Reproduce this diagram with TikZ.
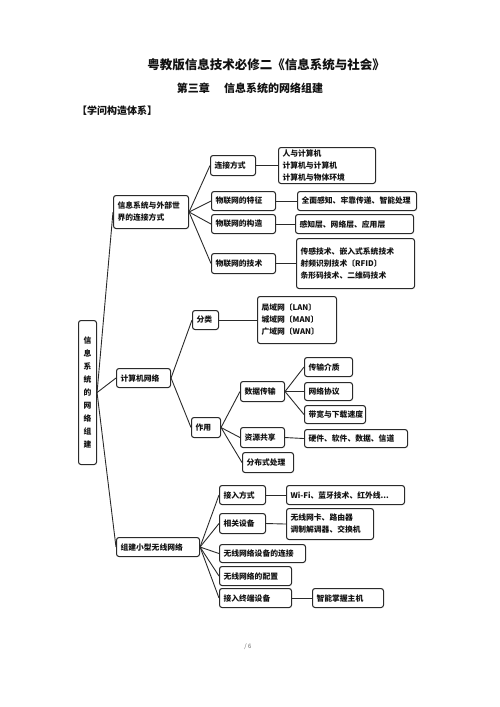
\documentclass[tikz,border=0pt]{standalone}
\usepackage{fontspec}
\setmainfont{Noto Sans CJK SC}
\usepackage{tikz}
\usetikzlibrary{positioning}
\definecolor{ink}{HTML}{111111}
\definecolor{edge}{HTML}{2A2A2A}
\definecolor{pgno}{HTML}{666666}
\tikzset{
  box/.style={draw=edge,line width=1.05pt,rounded corners=2.5pt,anchor=north west,
    inner xsep=4pt,inner ysep=0pt,align=left,text=ink,
    font=\bfseries\fontsize{7.8}{12}\selectfont},
  vbox/.style={box,align=center,font=\bfseries\fontsize{7.8}{13}\selectfont},
  wire/.style={draw=edge,line width=0.9pt},
  ttl/.style={text=ink,font=\bfseries\fontsize{12.5}{14}\selectfont},
  sttl/.style={text=ink,font=\bfseries\fontsize{11}{13}\selectfont},
  head/.style={text=ink,font=\bfseries\fontsize{10}{12}\selectfont},
}

\begin{document}
\begin{tikzpicture}[x=1pt,y=-1pt]
  \useasboundingbox (0,0) rectangle (500,707);
  % ---------- titles ----------
  \node[ttl] (title) at (266,65) {粤教版信息技术必修二《信息系统与社会》};
  \node[sttl] (chap) at (250,88) {第三章\hspace{1.3em}信息系统的网络组建};
  \node[head] (sec) at (117,111) {【学问构造体系】};
  % ---------- root and first level ----------
  \node[vbox,text width=10pt,minimum height=144pt] (root) at (78,320)
    {信\\息\\系\\统\\的\\网\\络\\组\\建};
  \node[box,text width=67pt,minimum height=33pt] (outer) at (113,195)
    {信息系统与外部世\\界的连接方式};
  \node[box,text width=46pt,minimum height=19pt] (net) at (116,368) {计算机网络};
  \node[box,text width=75pt,minimum height=19pt] (wlan) at (116,537) {组建小型无线网络};
  % ---------- outer world ----------
  \node[box,text width=37pt,minimum height=20pt] (conn) at (210,155) {连接方式};
  \node[box,text width=89pt,minimum height=36pt] (connL) at (278,147)
    {人与计算机\\计算机与计算机\\计算机与物体环境};
  \node[box,text width=56pt,minimum height=19pt] (iotF) at (211,191) {物联网的特征};
  \node[box,text width=111pt,minimum height=19pt] (iotFL) at (297,191) {全面感知、牢靠传递、智能处理};
  \node[box,text width=56pt,minimum height=19pt] (iotS) at (211,214) {物联网的构造};
  \node[box,text width=110pt,minimum height=19pt] (iotSL) at (295,214) {感知层、网络层、应用层};
  \node[box,text width=56pt,minimum height=20pt] (iotT) at (211,253) {物联网的技术};
  \node[box,text width=110pt,minimum height=50pt] (iotTL) at (296,238)
    {传感技术、嵌入式系统技术\\射频识别技术〔RFID〕\\条形码技术、二维码技术};
  % ---------- computer network ----------
  \node[box,text width=18pt,minimum height=19pt] (cls) at (192,310) {分类};
  \node[box,text width=71pt,minimum height=47pt] (clsL) at (257,296)
    {局域网〔LAN〕\\城域网〔MAN〕\\广域网〔WAN〕};
  \node[box,text width=21pt,minimum height=20pt] (use) at (191,417) {作用};
  \node[box,text width=36pt,minimum height=20pt] (trans) at (240,381) {数据传输};
  \node[box,text width=40pt,minimum height=19pt] (medium) at (304,357) {传输介质};
  \node[box,text width=40pt,minimum height=18pt] (proto) at (304,382) {网络协议};
  \node[box,text width=53pt,minimum height=18pt] (band) at (304,405) {带宽与下载速度};
  \node[box,text width=36pt,minimum height=20pt] (share) at (240,427) {资源共享};
  \node[box,text width=95pt,minimum height=18pt] (shareL) at (304,429) {硬件、软件、数据、信道};
  \node[box,text width=43pt,minimum height=20pt] (dist) at (242,452) {分布式处理};
  % ---------- small wireless network ----------
  \node[box,text width=38pt,minimum height=19pt] (acc) at (219,485) {接入方式};
  \node[box,text width=110pt,minimum height=19pt] (accL) at (286,485) {Wi-Fi、蓝牙技术、红外线...};
  \node[box,text width=38pt,minimum height=20pt] (dev) at (219,513) {相关设备};
  \node[box,text width=79pt,minimum height=31pt] (devL) at (286,508)
    {无线网卡、路由器\\调制解调器、交换机};
  \node[box,text width=78pt,minimum height=18pt] (wcon) at (219,544) {无线网络设备的连接};
  \node[box,text width=64pt,minimum height=19pt] (wcfg) at (219,566) {无线网络的配置};
  \node[box,text width=64pt,minimum height=19pt] (term) at (219,588) {接入终端设备};
  \node[box,text width=63pt,minimum height=19pt] (termL) at (312,588) {智能掌握主机};
  % ---------- connectors ----------
  \foreach \c in {outer,net,wlan} \draw[wire] (root.east) -- (\c.west);
  \foreach \c in {conn,iotF,iotS,iotT} \draw[wire] (outer.east) -- (\c.west);
  \foreach \c in {cls,use} \draw[wire] (net.east) -- (\c.west);
  \foreach \c in {trans,share,dist} \draw[wire] (use.east) -- (\c.west);
  \foreach \c in {medium,proto,band} \draw[wire] (trans.east) -- (\c.west);
  \foreach \c in {acc,dev,wcon,wcfg,term} \draw[wire] (wlan.east) -- (\c.west);
  \foreach \p/\q in {conn/connL,iotF/iotFL,iotS/iotSL,iotT/iotTL,cls/clsL,share/shareL,acc/accL,dev/devL,term/termL}
    \draw[wire] (\p.east) -- (\q.west);
  % ---------- page number ----------
  \node[text=pgno,font=\fontsize{6}{7}\selectfont] (pg) at (248,647) {/ 6};
\end{tikzpicture}
\end{document}
